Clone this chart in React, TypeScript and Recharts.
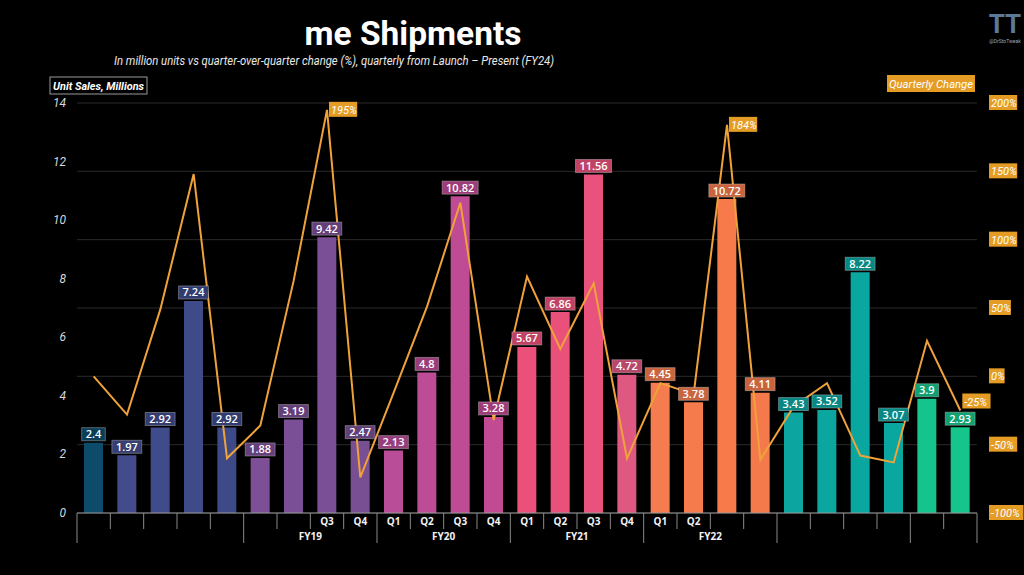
import React from 'react';
import { ComposedChart, Bar, Line, XAxis, YAxis, CartesianGrid, Cell, LabelList } from 'recharts';

// ---- data ----
const UNITS = [2.4, 1.97, 2.92, 7.24, 2.92, 1.88, 3.19, 9.42, 2.47, 2.13, 4.8, 10.82, 3.28, 5.67, 6.86, 11.56, 4.72, 4.45, 3.78, 10.72, 4.11, 3.43, 3.52, 8.22, 3.07, 3.9, 2.93];
const QOQ_CHANGE = [0, -28, 49, 148, -60, -36, 70, 195, -74, -12, 51, 127, -32, 73, 20, 68, -60, -5, -13, 184, -61, -22, -5, -58, -63, 26, -25];
const QUARTER_LABELS = ['', '', '', '', '', '', '', 'Q3', 'Q4', 'Q1', 'Q2', 'Q3', 'Q4', 'Q1', 'Q2', 'Q3', 'Q4', 'Q1', 'Q2', '', '', '', '', '', '', '', ''];
const FY_LABELS = ['', 'FY19', 'FY20', 'FY21', 'FY22', '', ''];
const FY_SIZES = [5, 4, 4, 4, 4, 4, 2];
const LEFT_TICKS = [0, 2, 4, 6, 8, 10, 12, 14];
const RIGHT_TICKS = [-100, -50, 0, 50, 100, 150, 200];
const LABELED_CHANGE = [7, 19, 26];

const BAR_COLORS = ['#0d4b6b', '#424c8c', '#404b8b', '#3f4a89', '#3e4a88', '#7d4f97', '#7b4f96', '#7a4f95', '#784f93', '#b94d98', '#bc4c96', '#bf4b94', '#c24a92', '#ea5079', '#ea517a', '#e8527c', '#df5882', '#f47c4e', '#f57b4c', '#f67a4a', '#f47a4b', '#0ca59f', '#0ba6a0', '#0aa6a0', '#0aa7a1', '#14c48c', '#15c58b'];

const data = UNITS.map((u, i) => ({ id: i, units: u, change: QOQ_CHANGE[i] }));

// ---- layout ----
const W = 1024;
const H = 575;
const LEFT_W = 77;
const RIGHT_W = 47;
const TOP = 103;
const X_H = 62;
const PLOT_W = W - LEFT_W - RIGHT_W;
const N = UNITS.length;

const groupStarts: number[] = [];
{
  let acc = 0;
  FY_SIZES.forEach((s) => { groupStarts.push(acc); acc += s; });
}

const ORANGE = '#f0a23a';
const ORANGE_BOX = '#e49c24';

const XTick = (props: any) => {
  const { x, y, index } = props;
  const slot = PLOT_W / N;
  const left = x - slot / 2;
  const gi = groupStarts.indexOf(index);
  const isStart = gi >= 0;
  const els: any[] = [];
  els.push(<line key="t" x1={left} x2={left} y1={y} y2={y + (isStart ? 30 : 16)} stroke="#8a8a8a" strokeWidth={1} />);
  if (index === N - 1) {
    els.push(<line key="te" x1={left + slot} x2={left + slot} y1={y} y2={y + 30} stroke="#8a8a8a" strokeWidth={1} />);
  }
  const q = QUARTER_LABELS[index];
  if (q) {
    els.push(<text key="q" x={x} y={y + 12} textAnchor="middle" fill="#f2f2f2" fontSize={10} fontWeight={700} fontFamily="Open Sans">{q}</text>);
  }
  if (isStart && FY_LABELS[gi]) {
    const cx = left + (FY_SIZES[gi] * slot) / 2;
    els.push(<text key="fy" x={cx} y={y + 27} textAnchor="middle" fill="#f2f2f2" fontSize={10} fontWeight={700} fontFamily="Open Sans">{FY_LABELS[gi]}</text>);
  }
  return <g>{els}</g>;
};

const LeftTick = (props: any) => {
  const { x, y, payload } = props;
  return (
    <text x={x} y={y + 4} textAnchor="end" fill="#d8d8d8" fontSize={12} fontStyle="italic" fontFamily="Roboto">{payload.value}</text>
  );
};

const RightTick = (props: any) => {
  const { x, y, payload } = props;
  const label = `${payload.value}%`;
  const w = label.length * 6.3 + 3;
  return (
    <g>
      <rect x={x - 2} y={y - 8} width={w} height={15} fill={ORANGE_BOX} />
      <text x={x} y={y + 4} fill="#ffffff" fontSize={11} fontStyle="italic" fontFamily="Roboto">{label}</text>
    </g>
  );
};

const BarLabel = (props: any) => {
  const { x, y, width, value, index } = props;
  const label = String(value);
  const tw = label.length * 6.2 + 5;
  const bw = Math.max(width, tw);
  const cx = x + width / 2;
  return (
    <g>
      <rect x={cx - bw / 2} y={y - 15} width={bw} height={13} fill={BAR_COLORS[index]} stroke="rgba(255,255,255,0.35)" strokeWidth={1} />
      <rect x={cx - bw / 2} y={y - 15} width={bw} height={13} fill="rgba(0,0,0,0.18)" />
      <text x={cx} y={y - 4.5} textAnchor="middle" fill="#ffffff" fontSize={11} fontWeight={600} fontFamily="Open Sans">{label}</text>
    </g>
  );
};

const ChangeLabel = (props: any) => {
  const { x, y, value, index } = props;
  if (!LABELED_CHANGE.includes(index)) return null;
  const label = `${value}%`;
  const w = label.length * 6.3 + 3;
  const dy = index === N - 1 ? -9 : 0;
  return (
    <g>
      <rect x={x + 2} y={y - 8 + dy} width={w} height={15} fill={ORANGE_BOX} />
      <text x={x + 4} y={y + 4 + dy} fill="#ffffff" fontSize={11} fontStyle="italic" fontFamily="Roboto">{label}</text>
    </g>
  );
};

export default function App() {
  return (
    <div style={{ position: 'absolute', left: 0, top: 0, width: W, height: H, background: '#000000', overflow: 'hidden' }}>
      <ComposedChart width={W} height={H} data={data} margin={{ top: TOP, right: 0, bottom: 0, left: 0 }}>
        <CartesianGrid yAxisId="right" vertical={false} stroke="#2a2a2a" strokeWidth={1} />
        <XAxis dataKey="id" height={X_H} interval={0} tickLine={false} tickSize={0} tickMargin={0} axisLine={{ stroke: '#9a9a9a' }} tick={<XTick />} />
        <YAxis yAxisId="left" orientation="left" width={LEFT_W} domain={[0, 14]} ticks={LEFT_TICKS} axisLine={false} tickLine={false} tickSize={6} tickMargin={5} tick={<LeftTick />} />
        <YAxis yAxisId="right" orientation="right" width={RIGHT_W} domain={[-100, 200]} ticks={RIGHT_TICKS} axisLine={false} tickLine={false} tickSize={6} tickMargin={8} tick={<RightTick />} />
        <Bar yAxisId="left" dataKey="units" barSize={19} isAnimationActive={false}>
          {data.map((d, i) => <Cell key={i} fill={BAR_COLORS[i]} />)}
          <LabelList dataKey="units" content={<BarLabel />} />
        </Bar>
        <Line yAxisId="right" type="linear" dataKey="change" stroke={ORANGE} strokeWidth={2} dot={false} activeDot={false} isAnimationActive={false}>
          <LabelList dataKey="change" content={<ChangeLabel />} />
        </Line>
      </ComposedChart>
      <svg width={W} height={H} style={{ position: 'absolute', left: 0, top: 0, pointerEvents: 'none' }}>
        <text x={413} y={45} textAnchor="middle" fill="#ffffff" fontSize={33} fontWeight={700} fontFamily="Roboto" textLength={217} lengthAdjust="spacingAndGlyphs">me Shipments</text>
        <text x={114} y={65} fill="#e8e8e8" fontSize={13} fontStyle="italic" fontFamily="Roboto" textLength={440} lengthAdjust="spacingAndGlyphs">In million units vs quarter-over-quarter change (%), quarterly from Launch – Present (FY24)</text>
        <rect x={50} y={77} width={97} height={17} fill="none" stroke="#9a9a9a" strokeWidth={1} />
        <text x={53} y={90} fill="#ffffff" fontSize={11.5} fontWeight={700} fontStyle="italic" fontFamily="Roboto" textLength={91} lengthAdjust="spacingAndGlyphs">Unit Sales, Millions</text>
        <rect x={887} y={75} width={88} height={17} fill={ORANGE_BOX} />
        <text x={889} y={88} fill="#ffffff" fontSize={11.5} fontStyle="italic" fontFamily="Roboto" textLength={84} lengthAdjust="spacingAndGlyphs">Quarterly Change</text>
        <text x={1005} y={33} textAnchor="middle" fill="#5b7a99" fontSize={26} fontWeight={700} fontFamily="Roboto">TT</text>
        <text x={1005} y={43} textAnchor="middle" fill="#9aa8b8" fontSize={5} fontFamily="Roboto">@DrStoTweak</text>
      </svg>
    </div>
  );
}
